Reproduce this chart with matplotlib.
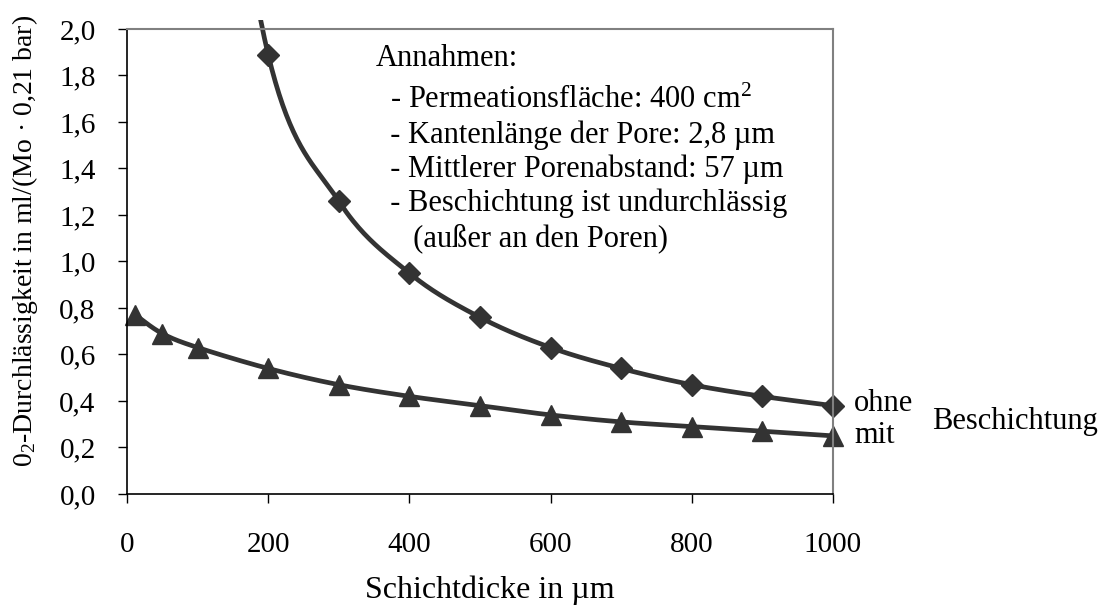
import numpy as np
import matplotlib.pyplot as plt
from matplotlib.transforms import Bbox, TransformedBbox

plt.rcParams['font.family'] = ['Liberation Serif', 'DejaVu Serif']
plt.rcParams['mathtext.fontset'] = 'custom'
plt.rcParams['mathtext.rm'] = 'Liberation Serif'
plt.rcParams['mathtext.it'] = 'Liberation Serif:italic'

# Schichtdicke in µm und O2-Durchlässigkeit in ml/(Mo · 0,21 bar)
dicke_ohne = [100, 200, 300, 400, 500, 600, 700, 800, 900, 1000]
werte_ohne = [3.78, 1.89, 1.26, 0.95, 0.76, 0.63, 0.54, 0.47, 0.42, 0.38]

dicke_mit = [12, 50, 100, 200, 300, 400, 500, 600, 700, 800, 900, 1000]
werte_mit = [0.77, 0.69, 0.63, 0.54, 0.47, 0.42, 0.38, 0.34, 0.31, 0.29, 0.27, 0.25]

x_ticks = [0, 200, 400, 600, 800, 1000]
y_ticks = [0.0, 0.2, 0.4, 0.6, 0.8, 1.0, 1.2, 1.4, 1.6, 1.8, 2.0]

annahmen = ['Annahmen:',
            '  - Permeationsfläche: 400 cm$^2$',
            '  - Kantenlänge der Pore: 2,8 µm',
            '  - Mittlerer Porenabstand: 57 µm',
            '  - Beschichtung ist undurchlässig',
            '     (außer an den Poren)']

farbe = '#333333'


def glatt(x, y, n=40):
    # geglaettete Linie (Bezier mit Catmull-Rom-Kontrollpunkten)
    x = np.asarray(x, float)
    y = np.asarray(y, float)
    px = np.concatenate([[x[0]], x, [x[-1]]])
    py = np.concatenate([[y[0]], y, [y[-1]]])
    t = np.linspace(0, 1, n)[:, None]
    teile = []
    for i in range(1, len(px) - 2):
        p0 = np.array([px[i - 1], py[i - 1]])
        p1 = np.array([px[i], py[i]])
        p2 = np.array([px[i + 1], py[i + 1]])
        p3 = np.array([px[i + 2], py[i + 2]])
        c1 = p1 + (p2 - p0) / 6
        c2 = p2 - (p3 - p1) / 6
        b = ((1 - t) ** 3) * p1 + 3 * ((1 - t) ** 2) * t * c1 \
            + 3 * (1 - t) * t ** 2 * c2 + t ** 3 * p2
        teile.append(b)
    kurve = np.vstack(teile)
    return kurve[:, 0], kurve[:, 1]


fig = plt.figure(figsize=(11.03, 6.05), dpi=100)
ax = fig.add_axes([0.1151, 0.1835, 0.640, 0.7686])

# Linie darf knapp ueber den oberen Rand hinausragen
clip = TransformedBbox(Bbox([[0, 0], [1, 1.02]]), ax.transAxes)

xs, ys = glatt(dicke_ohne, werte_ohne)
l1, = ax.plot(xs, ys, color=farbe, lw=3.4)
l1.set_clip_box(clip)
ax.plot(dicke_ohne[1:], werte_ohne[1:], 'D', color=farbe, ms=11.5, clip_on=False)

xs, ys = glatt(dicke_mit, werte_mit)
ax.plot(xs, ys, color=farbe, lw=3.4)
ax.plot(dicke_mit, werte_mit, '^', color=farbe, ms=14, clip_on=False)

ax.set_xlim(0, 1000)
ax.set_ylim(0, 2.0)
ax.set_xticks(x_ticks)
ax.set_yticks(y_ticks)
ax.set_xticklabels([str(v) for v in x_ticks])
ax.set_yticklabels([f'{v:.1f}'.replace('.', ',') for v in y_ticks])
ax.tick_params(direction='out', length=6.5, width=1, labelsize=21, colors='black')
ax.tick_params(axis='x', pad=21)
ax.tick_params(axis='y', pad=16)

for s in ['top', 'right']:
    ax.spines[s].set_color('#808080')
    ax.spines[s].set_linewidth(1.5)
for s in ['left', 'bottom']:
    ax.spines[s].set_color('black')
    ax.spines[s].set_linewidth(1.2)

fig.text(25 / 1103, 1 - 241 / 605, '$0_2$-Durchlässigkeit in ml/(Mo · 0,21 bar)',
         rotation=90, fontsize=20, ha='center', va='center')
fig.text(490 / 1103, 1 - 590 / 605, 'Schichtdicke in µm', fontsize=23,
         ha='center', va='center')

zeilen_y = [0.920, 0.830, 0.755, 0.682, 0.609, 0.533]
for text, yy in zip(annahmen, zeilen_y):
    ax.text(0.352, yy, text, transform=ax.transAxes, fontsize=22, va='baseline')

ax.text(1.03, 0.195, 'ohne', transform=ax.transAxes, fontsize=22, va='center')
ax.text(1.03, 0.125, 'mit', transform=ax.transAxes, fontsize=22, va='center')
ax.text(1.14, 0.155, 'Beschichtung', transform=ax.transAxes, fontsize=22, va='center')

fig.savefig('out.png', dpi=100)
